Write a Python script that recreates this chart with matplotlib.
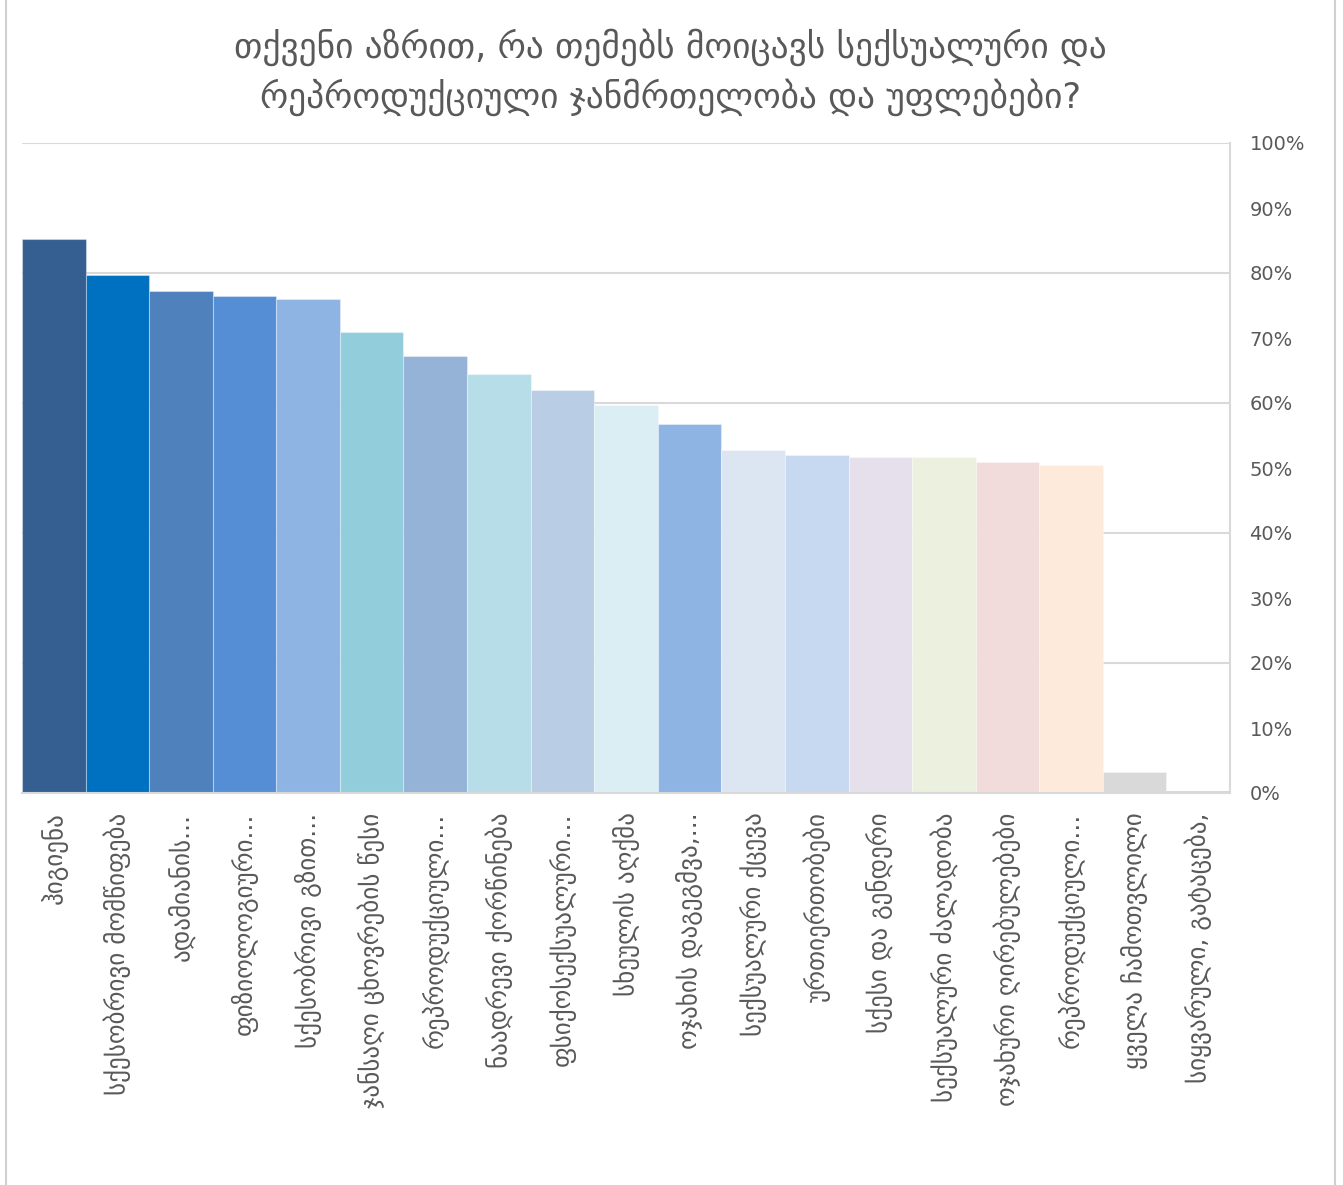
import matplotlib.pyplot as plt
from matplotlib.lines import Line2D
from matplotlib.ticker import FixedLocator, PercentFormatter

title = "თქვენი აზრით, რა თემებს მოიცავს სექსუალური და\nრეპროდუქციული ჯანმრთელობა და უფლებები?"

topics = [
    "ჰიგიენა",
    "სქესობრივი მომწიფება",
    "ადამიანის...",
    "ფიზიოლოგიური...",
    "სქესობრივი გზით...",
    "ჯანსაღი ცხოვრების წესი",
    "რეპროდუქციული...",
    "ნაადრევი ქორწინება",
    "ფსიქოსექსუალური...",
    "სხეულის აღქმა",
    "ოჯახის დაგეგმვა,...",
    "სექსუალური ქცევა",
    "ურთიერთობები",
    "სქესი და გენდერი",
    "სექსუალური ძალადობა",
    "ოჯახური ღირებულებები",
    "რეპროდუქციული...",
    "ყველა ჩამოთვლილი",
    "სიყვარული, გატაცება,",
]

shares = [85.2, 79.7, 77.2, 76.5, 76.0, 70.9, 67.2, 64.5, 62.0, 59.7,
          56.8, 52.8, 52.0, 51.7, 51.7, 50.9, 50.5, 3.2, 0.3]

bar_colors = ["#355F91", "#0070C0", "#4F81BD", "#558ED5", "#8EB4E3",
              "#92CDDC", "#95B3D7", "#B7DEE8", "#B9CDE5", "#DBEEF4",
              "#8EB4E3", "#DCE6F2", "#C6D9F1", "#E6E0EC", "#EBF1DE",
              "#F2DCDB", "#FDEADA", "#D9D9D9", "#6A8BB8"]

text_color = "#595959"
grid_color = "#D9D9D9"

fig = plt.figure(figsize=(13.43, 11.85), dpi=100)
ax = fig.add_axes([22 / 1343, 1 - 793 / 1185, (1230 - 22) / 1343, (793 - 143) / 1185])

x = list(range(len(topics)))
ax.bar(x, shares, width=1.0, color=bar_colors, edgecolor=(1, 1, 1, 0.35),
       linewidth=0.8, zorder=2)

ax.set_xlim(-0.5, len(topics) - 0.5)
ax.set_ylim(0, 100)

# percent scale on the right side, gridlines every 20%
ax.yaxis.tick_right()
ax.yaxis.set_major_locator(FixedLocator(range(0, 101, 10)))
ax.yaxis.set_major_formatter(PercentFormatter(decimals=0))
ax.tick_params(axis="y", length=0, pad=14, labelsize=14, labelcolor=text_color)
for v in range(20, 101, 20):
    ax.axhline(v, color=grid_color, linewidth=1.5, zorder=1)

ax.set_xticks(x)
ax.set_xticklabels(topics, rotation=90, va="top", ha="center",
                   fontsize=18, color=text_color)
ax.tick_params(axis="x", length=0, pad=14)

for side in ["left", "top"]:
    ax.spines[side].set_visible(False)
ax.spines["right"].set_color(grid_color)
ax.spines["right"].set_linewidth(1.5)
ax.spines["bottom"].set_color(grid_color)
ax.spines["bottom"].set_linewidth(1.5)

fig.text(0.499, 1 - 72 / 1185, title, ha="center", va="center",
         fontsize=25.5, color=text_color, linespacing=1.4)

# outer chart frame
for xf in [6 / 1343, 1335 / 1343]:
    fig.add_artist(Line2D([xf, xf], [0, 1], color="#D0D0D0", linewidth=1.5))

fig.savefig("out.png", dpi=100, facecolor="white")
